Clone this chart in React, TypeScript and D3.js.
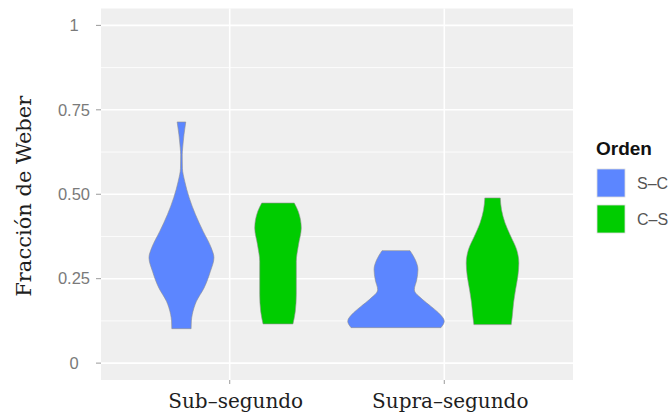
import React from "react";
import * as d3 from "d3";

// ---- data ----
const categories = ["Sub–segundo", "Supra–segundo"];
const groups = ["S–C", "C–S"];
const groupColors = ["#5c86ff", "#00cc00"];
const yTicks = [0, 0.25, 0.5, 0.75, 1];
const yTickLabels = ["0", "0.25", "0.50", "0.75", "1"];

// violin profiles: [value, relative density (1 = widest)]
const subSC: [number, number][] = [
  [0.102, 0.2], [0.125, 0.205], [0.144, 0.224], [0.164, 0.26], [0.183, 0.31], [0.222, 0.466], [0.272, 0.6],
  [0.312, 0.673], [0.342, 0.615], [0.39, 0.45], [0.44, 0.29], [0.49, 0.16],
  [0.538, 0.068], [0.577, 0.02], [0.617, 0.016], [0.637, 0.025], [0.676, 0.052], [0.714, 0.089],
];
const subCS: [number, number][] = [
  [0.116, 0.31], [0.153, 0.358], [0.203, 0.379], [0.252, 0.379], [0.301, 0.379],
  [0.35, 0.424], [0.4, 0.482], [0.449, 0.42], [0.474, 0.337],
];
const supraSC: [number, number][] = [
  [0.105, 0.93], [0.124, 1.0], [0.149, 0.88], [0.168, 0.725], [0.188, 0.553],
  [0.217, 0.38], [0.247, 0.43], [0.277, 0.455], [0.306, 0.4], [0.333, 0.29],
];
const supraCS: [number, number][] = [
  [0.114, 0.387], [0.138, 0.408], [0.178, 0.435], [0.217, 0.476], [0.257, 0.524],
  [0.296, 0.545], [0.336, 0.5], [0.375, 0.379], [0.415, 0.259], [0.454, 0.186], [0.489, 0.16],
];
const violins = [
  { cat: 0, group: 0, profile: subSC },
  { cat: 0, group: 1, profile: subCS },
  { cat: 1, group: 0, profile: supraSC },
  { cat: 1, group: 1, profile: supraCS },
];

export default function App() {
  const W = 670, H = 415;
  const panel = { left: 101, right: 573, top: 8.5, bottom: 380 };

  const y = d3.scaleLinear().domain([-0.05, 1.05]).range([panel.bottom, panel.top]);
  const x = d3.scaleLinear().domain([0.4, 2.6]).range([panel.left, panel.right]);
  const unit = x(1) - x(0);
  const dodge = 0.225;
  const wScale = d3.scaleLinear().domain([0, 1]).range([0, dodge * unit]);

  const minorTicks = [0.125, 0.375, 0.625, 0.875];

  const serif = "'DejaVu Serif', serif";
  const sans = "'Liberation Sans', Arial, sans-serif";

  return (
    <svg width={W} height={H} style={{ position: "absolute", left: 0, top: 0, background: "#fff" }}>
      <rect x={panel.left} y={panel.top} width={panel.right - panel.left} height={panel.bottom - panel.top} fill="#efefef" />
      {minorTicks.map((t) => (
        <line key={"mn" + t} x1={panel.left} x2={panel.right} y1={y(t)} y2={y(t)} stroke="#fff" strokeWidth={0.8} />
      ))}
      {yTicks.map((t) => (
        <line key={"mj" + t} x1={panel.left} x2={panel.right} y1={y(t)} y2={y(t)} stroke="#fff" strokeWidth={1.6} />
      ))}
      {categories.map((c, i) => (
        <line key={"vx" + c} x1={x(i + 1)} x2={x(i + 1)} y1={panel.top} y2={panel.bottom} stroke="#fff" strokeWidth={1.6} />
      ))}

      {violins.map((v, i) => {
        const cx = x(v.cat + 1) + (v.group === 0 ? -dodge : dodge) * unit;
        const area = d3
          .area<[number, number]>()
          .y((d) => y(d[0]))
          .x0((d) => cx - wScale(d[1]))
          .x1((d) => cx + wScale(d[1]))
          .curve(d3.curveMonotoneY);
        return (
          <path key={i} d={area(v.profile) || ""} fill={groupColors[v.group]} stroke="#8f8f8f" strokeWidth={0.6} />
        );
      })}

      {/* y axis */}
      {yTicks.map((t, i) => (
        <g key={"yt" + t}>
          <line x1={96} x2={panel.left} y1={y(t)} y2={y(t)} stroke="#9a9a9a" strokeWidth={1} />
          <text x={74} y={y(t)} dy="0.35em" textAnchor="middle" fontFamily={sans} fontSize={16.5} fill="#7a7a7a">
            {yTickLabels[i]}
          </text>
        </g>
      ))}
      <text transform={`translate(31, ${(panel.top + panel.bottom) / 2 + 2}) rotate(-90)`} textAnchor="middle" fontFamily={serif} fontSize={21} fill="#1e1e1e">
        Fracción de Weber
      </text>

      {/* x axis */}
      {categories.map((c, i) => (
        <g key={"xt" + c}>
          <line x1={x(i + 1)} x2={x(i + 1)} y1={panel.bottom} y2={panel.bottom + 4} stroke="#9a9a9a" strokeWidth={1} />
          <text x={x(i + 1) + 6} y={408} textAnchor="middle" fontFamily={serif} fontSize={20} fill="#1e1e1e">
            {c}
          </text>
        </g>
      ))}

      {/* legend */}
      <text x={596} y={155} fontFamily={sans} fontWeight="bold" fontSize={19} fill="#111">Orden</text>
      {groups.map((g, i) => (
        <g key={"lg" + g} transform={`translate(597, ${169 + i * 36})`}>
          <rect x={0} y={0} width={28} height={28} fill={groupColors[i]} stroke="#ddd" strokeWidth={0.8} />
          <text x={40} y={14} dy="0.35em" fontFamily={sans} fontSize={16} fill="#555">{g}</text>
        </g>
      ))}
    </svg>
  );
}
